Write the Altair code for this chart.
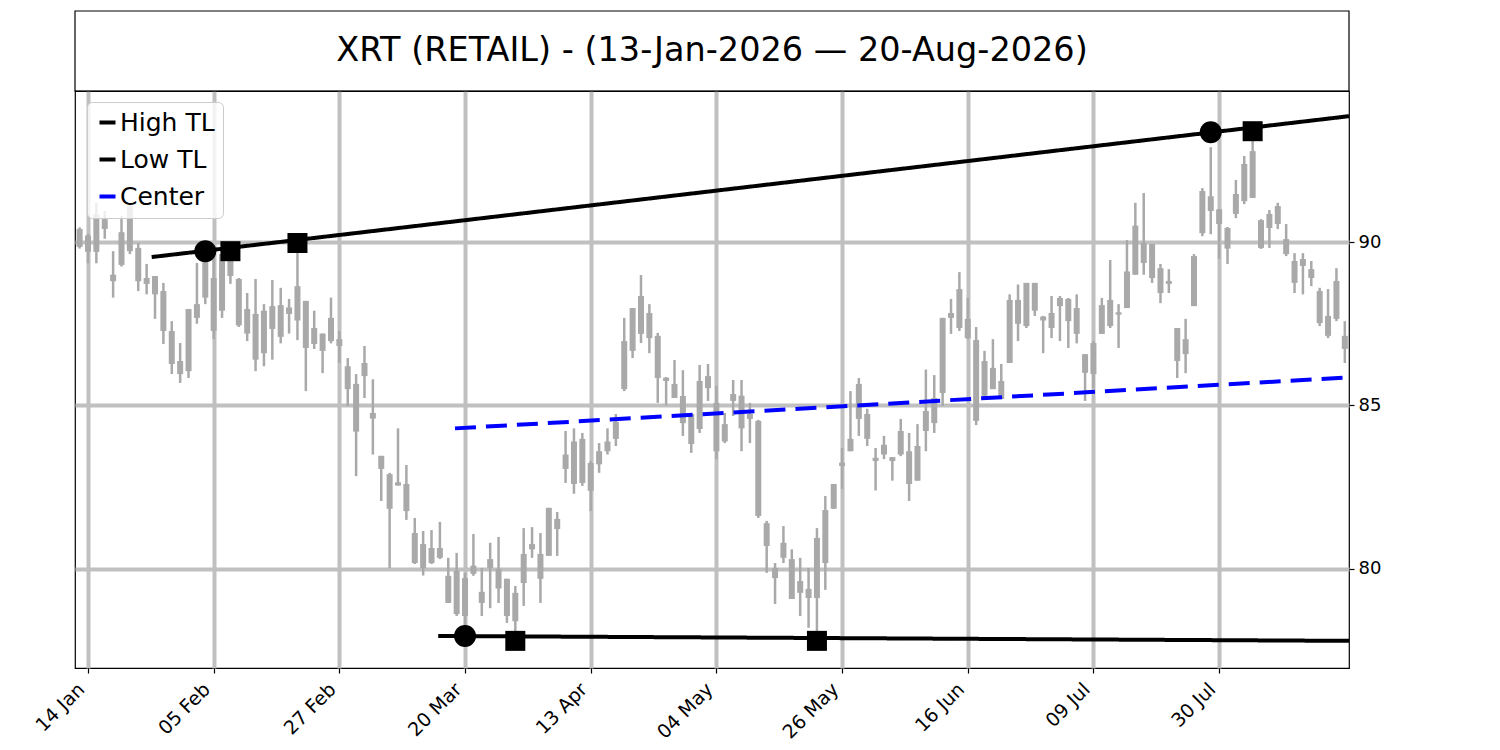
import json
import altair as alt
import pandas as pd

title_text = "XRT (RETAIL) - (13-Jan-2026 \u2014 20-Aug-2026)"

tick_index = [1, 16, 31, 46, 61, 76, 91, 106, 121, 136]
tick_labels = ["14 Jan", "05 Feb", "27 Feb", "20 Mar", "13 Apr", "04 May",
               "26 May", "16 Jun", "09 Jul", "30 Jul"]

highs = [90.45, 90.25, 91.2, 90.95, 89.72, 90.8, 91.16, 89.97, 89.33, 88.96,
         88.75, 87.58, 86.91, 87.95, 89.36, 89.7, 89.72, 89.63, 89.7, 88.9,
         88.44, 88.87, 88.1, 88.84, 88.6, 88.26, 89.9, 88.2, 87.9, 87.2,
         88.3, 87.28, 86.45, 85.96, 86.82, 85.8, 83.46, 82.94, 84.3, 83.18,
         81.56, 81.16, 81.19, 81.44, 80.34, 80.49, 79.88, 81.07, 80.03, 80.8,
         80.98, 79.7, 79.48, 81.25, 81.28, 81.1, 81.87, 81.74, 84.22, 84.3,
         84.16, 83.3, 83.85, 84.3, 84.74, 87.68, 87.98, 88.99, 88.1, 87.22,
         85.87, 86.39, 86.08, 84.74, 86.24, 86.27, 85.6, 84.77, 85.78, 85.78,
         85.08, 84.56, 81.47, 80.18, 81.31, 80.6, 80.34, 80.03, 81.25, 82.23,
         82.6, 83.7, 85.44, 85.84, 84.9, 83.7, 84.07, 83.42, 84.59, 84.16,
         84.43, 86.1, 85.93, 87.68, 88.26, 89.08, 88.29, 87.4, 86.67, 87.03,
         86.27, 88.4, 88.7, 88.75, 88.75, 87.74, 88.35, 88.35, 88.29, 88.4,
         86.57, 86.97, 88.29, 89.45, 88.1, 90.06, 91.2, 91.5, 89.94, 89.33,
         89.17, 87.37, 87.65, 89.63, 91.65, 92.9, 91.0, 90.46, 91.9, 92.63,
         93.2, 90.7, 90.98, 91.2, 90.55, 89.66, 89.66, 89.42, 88.6, 88.56,
         89.2, 87.58]

box_tops = [90.4, 90.2, 90.85, 90.7, 89.0, 90.3, 91.1, 89.82, 88.9, 88.96,
            88.5, 87.28, 86.36, 87.95, 88.1, 89.42, 88.9, 89.63, 89.5, 88.87,
            87.95, 87.8, 87.9, 88.04, 88.07, 88.0, 88.65, 88.2, 87.37, 87.2,
            87.68, 87.03, 86.2, 85.66, 86.3, 84.77, 83.46, 82.9, 82.65, 82.6,
            81.1, 80.76, 80.64, 80.64, 79.79, 79.94, 79.72, 80.1, 79.3, 80.3,
            80.0, 79.7, 79.27, 80.46, 80.76, 80.46, 81.87, 81.53, 83.5, 83.9,
            83.98, 83.24, 83.6, 83.9, 84.5, 86.97, 87.98, 88.35, 87.83, 87.13,
            85.85, 85.66, 85.29, 84.74, 85.75, 85.9, 85.08, 84.43, 85.35, 85.3,
            84.74, 84.53, 81.4, 80.03, 80.8, 80.3, 79.63, 79.39, 80.95, 81.8,
            82.6, 83.25, 83.98, 85.66, 84.74, 83.4, 83.8, 83.42, 84.22, 83.6,
            83.76, 84.83, 85.23, 87.68, 87.83, 88.56, 87.65, 87.0, 86.36, 86.15,
            85.75, 88.23, 88.23, 88.75, 88.75, 87.72, 87.83, 88.29, 88.26, 87.98,
            86.57, 86.91, 88.07, 88.23, 87.85, 89.1, 90.5, 89.97, 89.94, 89.2,
            88.81, 87.37, 87.03, 89.57, 91.56, 91.4, 91.0, 90.43, 91.47, 92.39,
            92.78, 90.67, 90.86, 91.1, 90.09, 89.42, 89.48, 89.17, 88.5, 87.74,
            88.81, 87.13]

box_bottoms = [89.85, 89.7, 89.7, 90.4, 88.8, 89.3, 89.72, 88.8, 88.72, 88.4,
               87.28, 86.27, 85.96, 86.05, 87.68, 88.3, 87.28, 87.9, 88.96, 87.45,
               87.2, 86.4, 86.6, 87.34, 87.1, 87.8, 87.6, 86.76, 86.88, 86.67,
               86.97, 86.82, 85.5, 84.2, 85.9, 84.6, 83.06, 81.84, 82.55, 81.77,
               80.18, 80.03, 80.18, 80.34, 78.96, 78.62, 78.56, 79.85, 78.96, 80.03,
               79.4, 78.56, 78.4, 79.57, 80.6, 79.7, 80.4, 81.22, 83.06, 82.6,
               82.63, 82.39, 83.2, 83.6, 83.98, 85.5, 86.67, 87.19, 87.06, 85.84,
               85.75, 85.23, 84.46, 83.82, 84.28, 85.53, 83.6, 83.9, 85.14, 84.3,
               84.59, 81.62, 80.7, 79.72, 80.34, 79.08, 79.27, 79.11, 79.11, 80.18,
               81.84, 83.15, 83.6, 84.59, 83.98, 83.3, 83.5, 83.3, 83.5, 82.6,
               82.7, 84.22, 84.46, 85.38, 87.68, 87.37, 87.06, 84.53, 85.3, 85.5,
               85.2, 86.3, 87.5, 87.43, 87.9, 87.6, 87.37, 88.04, 87.58, 87.19,
               86.0, 85.96, 87.19, 87.43, 87.78, 87.98, 89.0, 89.36, 88.9, 88.44,
               88.72, 86.36, 86.57, 88.04, 90.27, 90.95, 90.55, 89.8, 90.86, 91.25,
               91.35, 89.82, 90.43, 90.55, 89.63, 88.75, 89.27, 88.9, 87.52, 87.13,
               87.65, 86.73]

lows = [89.8, 89.35, 89.35, 90.1, 88.3, 89.25, 89.63, 88.5, 88.4, 87.65,
        86.88, 85.96, 85.69, 85.84, 87.5, 88.1, 87.03, 87.68, 88.72, 87.4,
        86.97, 86.05, 86.2, 86.4, 86.9, 87.2, 87.0, 85.44, 86.73, 85.99,
        86.9, 86.3, 84.98, 82.84, 85.23, 83.5, 82.08, 80.03, 82.55, 81.5,
        80.15, 79.8, 80.15, 80.3, 78.96, 78.56, 78.0, 79.79, 78.56, 78.8,
        78.96, 78.35, 77.85, 78.87, 80.34, 78.96, 80.4, 80.4, 82.63, 82.3,
        82.54, 81.77, 82.94, 83.5, 83.76, 85.44, 86.45, 86.91, 86.6, 85.08,
        85.0, 85.23, 84.07, 83.55, 84.16, 85.14, 83.36, 83.85, 84.68, 83.6,
        83.85, 81.56, 79.88, 78.93, 80.18, 79.08, 78.56, 78.2, 77.85, 79.36,
        81.84, 82.45, 83.6, 84.07, 83.76, 82.4, 83.36, 82.7, 83.45, 82.08,
        82.7, 83.6, 84.16, 84.98, 87.19, 87.28, 87.03, 84.4, 85.23, 85.5,
        85.2, 86.3, 86.97, 87.37, 87.74, 86.6, 87.06, 86.97, 86.76, 86.9,
        85.14, 85.53, 87.19, 87.37, 86.76, 87.98, 89.0, 89.0, 88.75, 88.13,
        88.44, 85.84, 85.99, 88.04, 90.18, 90.24, 89.48, 89.33, 90.73, 91.16,
        91.35, 89.79, 89.82, 90.4, 89.57, 88.44, 88.4, 88.65, 87.43, 87.06,
        87.58, 86.3]

# trend lines: (start index, start price, end index, end price)
line_names = ["High TL", "Low TL", "Center"]
line_start_idx = [8.6, 42.8, 44.8]
line_start_val = [89.54, 77.95, 84.30]
line_end_idx = [151.5, 151.5, 151.5]
line_end_val = [93.85, 77.80, 85.86]

circle_idx = [15, 135, 46]
circle_val = [89.72, 93.36, 77.95]
square_idx = [18, 26, 140, 52, 88]
square_val = [89.72, 89.97, 93.39, 77.80, 77.80]

candles = pd.DataFrame({
    "i": list(range(len(highs))),
    "high": highs, "low": lows, "top": box_tops, "bottom": box_bottoms,
})
lines = pd.DataFrame({
    "series": line_names + line_names,
    "i": line_start_idx + line_end_idx,
    "price": line_start_val + line_end_val,
})
circles = pd.DataFrame({"i": circle_idx, "price": circle_val})
squares = pd.DataFrame({"i": square_idx, "price": square_val})
title_df = pd.DataFrame({"t": [title_text]})

W, H = 1274, 577
GRID = "#c0c0c0"
CANDLE = "#a9a9a9"

x_scale = alt.Scale(domain=[-0.55, 151.5], nice=False, zero=False)
y_scale = alt.Scale(domain=[76.97, 94.62], nice=False, zero=False)

label_expr = json.dumps(tick_labels) + "[round((datum.value - 1) / 15)]"

x_enc = alt.X("i:Q", scale=x_scale, title=None,
              axis=alt.Axis(values=tick_index, labelExpr=label_expr,
                            labelAngle=315, labelAlign="right",
                            labelBaseline="bottom", labelPadding=20,
                            labelFontSize=19, labelColor="black",
                            tickColor="black", tickSize=5, tickWidth=1.2,
                            domain=False, grid=True, gridColor=GRID,
                            gridWidth=4))
y_axis = alt.Axis(values=[80, 85, 90], orient="right", labelFontSize=18,
                  labelColor="black", tickColor="black", tickSize=5,
                  tickWidth=1.2, domain=False, grid=True, gridColor=GRID,
                  gridWidth=4, labelPadding=4)

wicks = alt.Chart(candles).mark_rule(color=CANDLE, strokeWidth=2.5).encode(
    x=x_enc,
    y=alt.Y("low:Q", scale=y_scale, axis=y_axis, title=None),
    y2="high:Q",
)
bodies = alt.Chart(candles).mark_rule(color=CANDLE, strokeWidth=6,
                                      strokeCap="butt").encode(
    x="i:Q", y="bottom:Q", y2="top:Q",
)
trend = alt.Chart(lines).mark_line(strokeWidth=4, clip=True).encode(
    x="i:Q",
    y="price:Q",
    color=alt.Color("series:N",
                    scale=alt.Scale(domain=line_names,
                                    range=["black", "black", "blue"]),
                    legend=alt.Legend(title=None, orient="none",
                                      legendX=12, legendY=11,
                                      symbolType="stroke",
                                      symbolStrokeWidth=4, symbolSize=256,
                                      labelFontSize=25, labelColor="black",
                                      labelOffset=0, rowPadding=11,
                                      padding=8,
                                      fillColor="rgba(255,255,255,0.8)",
                                      strokeColor="#cccccc",
                                      cornerRadius=5)),
    strokeDash=alt.StrokeDash("series:N",
                              scale=alt.Scale(domain=line_names,
                                              range=[[1, 0], [1, 0], [21, 10]]),
                              legend=None),
)
circ = alt.Chart(circles).mark_point(shape="circle", filled=True, size=484,
                                     color="black", opacity=1).encode(
    x="i:Q", y="price:Q")
sq = alt.Chart(squares).mark_point(shape="square", filled=True, size=400,
                                   color="black", opacity=1).encode(
    x="i:Q", y="price:Q")

title_box = alt.Chart(title_df).mark_rect(
    filled=False, stroke="black", strokeWidth=1.2, clip=False
).encode(x=alt.value(0), x2=alt.value(W), y=alt.value(-80), y2=alt.value(0))
title_txt = alt.Chart(title_df).mark_text(
    fontSize=33.5, color="black", align="center", baseline="middle",
    clip=False
).encode(text="t:N", x=alt.value(W / 2), y=alt.value(-40))

chart = alt.layer(wicks, bodies, trend, circ, sq, title_box, title_txt).properties(
    width=W, height=H,
    padding={"left": 24, "top": 2, "right": 5, "bottom": 5},
).configure(font="DejaVu Sans").configure_view(
    stroke="black", strokeWidth=1.2
)

chart.save("out.html", embed_options={"renderer": "svg", "actions": False})
